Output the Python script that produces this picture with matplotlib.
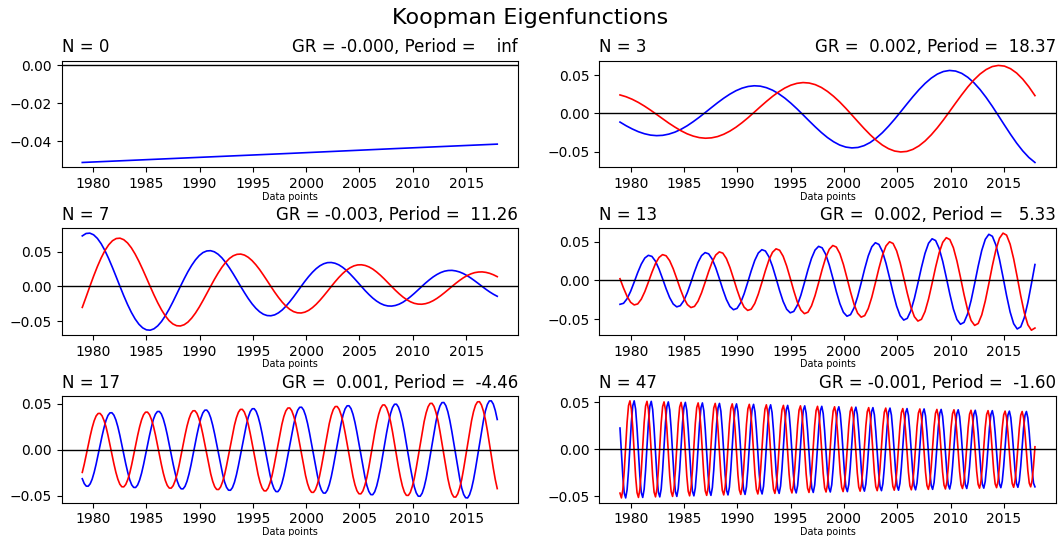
import numpy as np
import matplotlib
matplotlib.use("Agg")
import matplotlib.pyplot as plt

# eigenfunction index, growth rate (per month) and period (years)
modes = [0, 3, 7, 13, 17, 47]
growth_rates = [-0.0001, 0.002, -0.003, 0.002, 0.001, -0.001]
periods = [np.inf, 18.37, 11.26, 5.33, -4.46, -1.60]
t_start = 1979.0
t_end = 2017.92

# values, evenly spaced in time between t_start and t_end
real_0 = [-0.0513, -0.0489, -0.0465, -0.0440, -0.0416]
imag_0 = None

real_3 = [-0.0113, -0.0161, -0.0203, -0.0239, -0.0266, -0.0284, -0.0291, -0.0287, -0.0271, -0.0245,
          -0.0208, -0.0162, -0.0108, -0.0049, 0.0014, 0.0078, 0.0141, 0.0200, 0.0253, 0.0298,
          0.0332, 0.0354, 0.0363, 0.0358, 0.0338, 0.0305, 0.0259, 0.0202, 0.0135, 0.0061,
          -0.0018, -0.0098, -0.0176, -0.0250, -0.0316, -0.0371, -0.0414, -0.0441, -0.0452, -0.0446,
          -0.0422, -0.0381, -0.0323, -0.0252, -0.0168, -0.0076, 0.0022, 0.0122, 0.0220, 0.0312,
          0.0394, 0.0463, 0.0516, 0.0550, 0.0564, 0.0556, 0.0526, 0.0474, 0.0403, 0.0314,
          0.0210, 0.0095, -0.0028, -0.0152, -0.0274, -0.0389, -0.0491, -0.0577, -0.0643]
imag_3 = [0.0243, 0.0219, 0.0186, 0.0145, 0.0097, 0.0044, -0.0013, -0.0070, -0.0127, -0.0179,
          -0.0227, -0.0267, -0.0297, -0.0317, -0.0325, -0.0320, -0.0303, -0.0273, -0.0232, -0.0181,
          -0.0121, -0.0055, 0.0016, 0.0088, 0.0158, 0.0224, 0.0283, 0.0333, 0.0371, 0.0395,
          0.0405, 0.0399, 0.0378, 0.0341, 0.0289, 0.0225, 0.0151, 0.0068, -0.0020, -0.0109,
          -0.0197, -0.0279, -0.0353, -0.0415, -0.0462, -0.0493, -0.0505, -0.0498, -0.0471, -0.0425,
          -0.0361, -0.0281, -0.0188, -0.0085, 0.0025, 0.0136, 0.0245, 0.0348, 0.0440, 0.0517,
          0.0576, 0.0615, 0.0630, 0.0621, 0.0587, 0.0530, 0.0450, 0.0350, 0.0234]

real_7 = [0.0732, 0.0767, 0.0772, 0.0748, 0.0696, 0.0619, 0.0520, 0.0403, 0.0274, 0.0138,
          0.0, -0.0135, -0.0261, -0.0374, -0.0470, -0.0546, -0.0599, -0.0628, -0.0633, -0.0613,
          -0.0570, -0.0507, -0.0425, -0.0330, -0.0225, -0.0113, 0.0, 0.0110, 0.0214, 0.0306,
          0.0385, 0.0447, 0.0491, 0.0514, 0.0518, 0.0502, 0.0467, 0.0415, 0.0348, 0.0270,
          0.0184, 0.0093, 0.0, -0.0090, -0.0175, -0.0251, -0.0315, -0.0366, -0.0402, -0.0421,
          -0.0424, -0.0411, -0.0382, -0.0340, -0.0285, -0.0221, -0.0151, -0.0076, 0.0, 0.0074,
          0.0143, 0.0205, 0.0258, 0.0300, 0.0329, 0.0345, 0.0347, 0.0336, 0.0313, 0.0278,
          0.0234, 0.0181, 0.0123, 0.0062, 0.0, -0.0061, -0.0117, -0.0168, -0.0211, -0.0245,
          -0.0269, -0.0282, -0.0284, -0.0275, -0.0256, -0.0228, -0.0191, -0.0148, -0.0101, -0.0051,
          0.0, 0.0050, 0.0096, 0.0138, 0.0173, 0.0201, 0.0221, 0.0231, 0.0233, 0.0225,
          0.0210, 0.0187, 0.0157, 0.0122, 0.0083, 0.0042, 0.0, -0.0041, -0.0079, -0.0113,
          -0.0142]
imag_7 = [-0.0303, -0.0153, 0.0, 0.0149, 0.0288, 0.0413, 0.0520, 0.0603, 0.0662, 0.0694,
          0.0699, 0.0677, 0.0630, 0.0560, 0.0470, 0.0365, 0.0248, 0.0125, 0.0, -0.0122,
          -0.0236, -0.0338, -0.0425, -0.0494, -0.0542, -0.0568, -0.0572, -0.0554, -0.0516, -0.0458,
          -0.0385, -0.0299, -0.0203, -0.0102, 0.0, 0.0100, 0.0193, 0.0277, 0.0348, 0.0405,
          0.0444, 0.0465, 0.0469, 0.0454, 0.0422, 0.0375, 0.0315, 0.0245, 0.0166, 0.0084,
          0.0, -0.0082, -0.0158, -0.0227, -0.0285, -0.0331, -0.0364, -0.0381, -0.0384, -0.0372,
          -0.0346, -0.0307, -0.0258, -0.0200, -0.0136, -0.0069, 0.0, 0.0067, 0.0130, 0.0186,
          0.0234, 0.0271, 0.0298, 0.0312, 0.0314, 0.0304, 0.0283, 0.0252, 0.0211, 0.0164,
          0.0112, 0.0056, 0.0, -0.0055, -0.0106, -0.0152, -0.0191, -0.0222, -0.0244, -0.0255,
          -0.0257, -0.0249, -0.0232, -0.0206, -0.0173, -0.0134, -0.0091, -0.0046, 0.0, 0.0045,
          0.0087, 0.0125, 0.0157, 0.0182, 0.0200, 0.0209, 0.0211, 0.0204, 0.0190, 0.0169,
          0.0142]

real_13 = [-0.0309, -0.0296, -0.0237, -0.0141, -0.0022, 0.0102, 0.0211, 0.0290, 0.0325, 0.0311, 0.0249, 0.0148, 0.0023, -0.0107, -0.0222, -0.0305,
           -0.0342, -0.0327, -0.0262, -0.0156, -0.0025, 0.0112, 0.0234, 0.0321, 0.0360, 0.0344, 0.0276, 0.0164, 0.0026, -0.0118, -0.0246, -0.0338,
           -0.0379, -0.0362, -0.0290, -0.0173, -0.0027, 0.0124, 0.0259, 0.0355, 0.0398, 0.0381, 0.0305, 0.0182, 0.0029, -0.0131, -0.0272, -0.0373,
           -0.0419, -0.0401, -0.0321, -0.0191, -0.0030, 0.0138, 0.0286, 0.0393, 0.0441, 0.0422, 0.0338, 0.0201, 0.0032, -0.0145, -0.0301, -0.0413,
           -0.0463, -0.0443, -0.0355, -0.0211, -0.0033, 0.0152, 0.0317, 0.0435, 0.0488, 0.0466, 0.0374, 0.0222, 0.0035, -0.0160, -0.0333, -0.0457,
           -0.0513, -0.0491, -0.0393, -0.0234, -0.0037, 0.0168, 0.0350, 0.0481, 0.0539, 0.0516, 0.0413, 0.0246, 0.0039, -0.0177, -0.0369, -0.0506,
           -0.0567, -0.0543, -0.0435, -0.0259, -0.0041, 0.0186, 0.0388, 0.0532, 0.0597, 0.0571, 0.0457, 0.0272, 0.0043, -0.0196, -0.0408, -0.0560,
           -0.0628, -0.0600, -0.0481, -0.0286, -0.0045, 0.0206]
imag_13 = [0.0022, -0.0099, -0.0206, -0.0283, -0.0317, -0.0304, -0.0243, -0.0145, -0.0023, 0.0104, 0.0217, 0.0297, 0.0334, 0.0319, 0.0256, 0.0152,
           0.0024, -0.0110, -0.0228, -0.0313, -0.0351, -0.0336, -0.0269, -0.0160, -0.0025, 0.0115, 0.0240, 0.0329, 0.0369, 0.0353, 0.0283, 0.0168,
           0.0026, -0.0121, -0.0252, -0.0346, -0.0388, -0.0372, -0.0298, -0.0177, -0.0028, 0.0127, 0.0265, 0.0364, 0.0409, 0.0391, 0.0313, 0.0186,
           0.0029, -0.0134, -0.0279, -0.0383, -0.0430, -0.0411, -0.0329, -0.0196, -0.0031, 0.0141, 0.0294, 0.0403, 0.0452, 0.0432, 0.0346, 0.0206,
           0.0032, -0.0148, -0.0309, -0.0424, -0.0475, -0.0455, -0.0364, -0.0217, -0.0034, 0.0156, 0.0325, 0.0446, 0.0500, 0.0478, 0.0383, 0.0228,
           0.0036, -0.0164, -0.0342, -0.0469, -0.0526, -0.0503, -0.0403, -0.0240, -0.0038, 0.0173, 0.0359, 0.0493, 0.0553, 0.0529, 0.0424, 0.0252,
           0.0040, -0.0182, -0.0378, -0.0519, -0.0582, -0.0557, -0.0446, -0.0265, -0.0042, 0.0191, 0.0398, 0.0546, 0.0612, 0.0586, 0.0469, 0.0279,
           0.0044, -0.0201, -0.0418, -0.0574, -0.0644, -0.0616]

real_17 = [-0.0314, -0.0367, -0.0394, -0.0395, -0.0369, -0.0318, -0.0245, -0.0156, -0.0055, 0.0049, 0.0149, 0.0240,
           0.0319, 0.0373, 0.0401, 0.0402, 0.0376, 0.0324, 0.0250, 0.0158, 0.0056, -0.0049, -0.0152, -0.0244,
           -0.0325, -0.0380, -0.0408, -0.0409, -0.0382, -0.0329, -0.0254, -0.0161, -0.0057, 0.0050, 0.0154, 0.0248,
           0.0331, 0.0386, 0.0415, 0.0416, 0.0389, 0.0335, 0.0258, 0.0164, 0.0058, -0.0051, -0.0157, -0.0253,
           -0.0336, -0.0393, -0.0423, -0.0424, -0.0396, -0.0341, -0.0263, -0.0167, -0.0059, 0.0052, 0.0160, 0.0257,
           0.0342, 0.0400, 0.0430, 0.0431, 0.0403, 0.0347, 0.0267, 0.0170, 0.0061, -0.0053, -0.0163, -0.0261,
           -0.0348, -0.0407, -0.0438, -0.0439, -0.0410, -0.0353, -0.0272, -0.0173, -0.0062, 0.0054, 0.0166, 0.0266,
           0.0354, 0.0414, 0.0445, 0.0446, 0.0417, 0.0359, 0.0277, 0.0176, 0.0063, -0.0055, -0.0168, -0.0271,
           -0.0361, -0.0421, -0.0453, -0.0454, -0.0424, -0.0365, -0.0282, -0.0179, -0.0064, 0.0056, 0.0171, 0.0275,
           0.0367, 0.0429, 0.0461, 0.0462, 0.0432, 0.0372, 0.0287, 0.0182, 0.0065, -0.0057, -0.0174, -0.0280,
           -0.0373, -0.0436, -0.0469, -0.0470, -0.0439, -0.0378, -0.0292, -0.0185, -0.0066, 0.0058, 0.0177, 0.0285,
           0.0380, 0.0444, 0.0477, 0.0478, 0.0447, 0.0385, 0.0297, 0.0188, 0.0067, -0.0059, -0.0181, -0.0290,
           -0.0386, -0.0451, -0.0486, -0.0487, -0.0455, -0.0392, -0.0302, -0.0192, -0.0068, 0.0060, 0.0184, 0.0295,
           0.0393, 0.0459, 0.0494, 0.0495, 0.0463, 0.0398, 0.0307, 0.0195, 0.0069, -0.0061, -0.0187, -0.0300,
           -0.0400, -0.0467, -0.0503, -0.0504, -0.0471, -0.0405, -0.0313, -0.0198, -0.0071, 0.0062, 0.0190, 0.0306,
           0.0407, 0.0475, 0.0512, 0.0513, 0.0479, 0.0413, 0.0318, 0.0202, 0.0072, -0.0063, -0.0194, -0.0311,
           -0.0414, -0.0484, -0.0520, -0.0522, -0.0487, -0.0420, -0.0324, -0.0205, -0.0073, 0.0064, 0.0197, 0.0316,
           0.0421, 0.0492, 0.0530, 0.0531, 0.0496, 0.0427, 0.0329]
imag_17 = [-0.0245, -0.0156, -0.0055, 0.0049, 0.0149, 0.0240, 0.0314, 0.0367, 0.0394, 0.0395, 0.0369, 0.0318,
           0.0250, 0.0158, 0.0056, -0.0049, -0.0152, -0.0244, -0.0319, -0.0373, -0.0401, -0.0402, -0.0376, -0.0324,
           -0.0254, -0.0161, -0.0057, 0.0050, 0.0154, 0.0248, 0.0325, 0.0380, 0.0408, 0.0409, 0.0382, 0.0329,
           0.0258, 0.0164, 0.0058, -0.0051, -0.0157, -0.0253, -0.0331, -0.0386, -0.0415, -0.0416, -0.0389, -0.0335,
           -0.0263, -0.0167, -0.0059, 0.0052, 0.0160, 0.0257, 0.0336, 0.0393, 0.0423, 0.0424, 0.0396, 0.0341,
           0.0267, 0.0170, 0.0061, -0.0053, -0.0163, -0.0261, -0.0342, -0.0400, -0.0430, -0.0431, -0.0403, -0.0347,
           -0.0272, -0.0173, -0.0062, 0.0054, 0.0166, 0.0266, 0.0348, 0.0407, 0.0438, 0.0439, 0.0410, 0.0353,
           0.0277, 0.0176, 0.0063, -0.0055, -0.0168, -0.0271, -0.0354, -0.0414, -0.0445, -0.0446, -0.0417, -0.0359,
           -0.0282, -0.0179, -0.0064, 0.0056, 0.0171, 0.0275, 0.0361, 0.0421, 0.0453, 0.0454, 0.0424, 0.0365,
           0.0287, 0.0182, 0.0065, -0.0057, -0.0174, -0.0280, -0.0367, -0.0429, -0.0461, -0.0462, -0.0432, -0.0372,
           -0.0292, -0.0185, -0.0066, 0.0058, 0.0177, 0.0285, 0.0373, 0.0436, 0.0469, 0.0470, 0.0439, 0.0378,
           0.0297, 0.0188, 0.0067, -0.0059, -0.0181, -0.0290, -0.0380, -0.0444, -0.0477, -0.0478, -0.0447, -0.0385,
           -0.0302, -0.0192, -0.0068, 0.0060, 0.0184, 0.0295, 0.0386, 0.0451, 0.0486, 0.0487, 0.0455, 0.0392,
           0.0307, 0.0195, 0.0069, -0.0061, -0.0187, -0.0300, -0.0393, -0.0459, -0.0494, -0.0495, -0.0463, -0.0398,
           -0.0313, -0.0198, -0.0071, 0.0062, 0.0190, 0.0306, 0.0400, 0.0467, 0.0503, 0.0504, 0.0471, 0.0405,
           0.0318, 0.0202, 0.0072, -0.0063, -0.0194, -0.0311, -0.0407, -0.0475, -0.0512, -0.0513, -0.0479, -0.0413,
           -0.0324, -0.0205, -0.0073, 0.0064, 0.0197, 0.0316, 0.0414, 0.0484, 0.0520, 0.0522, 0.0487, 0.0420,
           0.0329, 0.0209, 0.0074, -0.0065, -0.0200, -0.0322, -0.0421]

real_47 = [0.0227, -0.0036, -0.0289, -0.0465, -0.0516, -0.0429, -0.0227, 0.0036, 0.0289, 0.0465, 0.0516, 0.0429,
           0.0224, -0.0036, -0.0286, -0.0460, -0.0511, -0.0424, -0.0224, 0.0036, 0.0286, 0.0460, 0.0511, 0.0424,
           0.0222, -0.0035, -0.0283, -0.0455, -0.0505, -0.0420, -0.0222, 0.0035, 0.0283, 0.0455, 0.0505, 0.0420,
           0.0220, -0.0035, -0.0280, -0.0450, -0.0500, -0.0415, -0.0220, 0.0035, 0.0280, 0.0450, 0.0500, 0.0415,
           0.0217, -0.0035, -0.0277, -0.0445, -0.0494, -0.0411, -0.0217, 0.0035, 0.0277, 0.0445, 0.0494, 0.0411,
           0.0215, -0.0034, -0.0274, -0.0441, -0.0489, -0.0406, -0.0215, 0.0034, 0.0274, 0.0441, 0.0489, 0.0406,
           0.0213, -0.0034, -0.0271, -0.0436, -0.0484, -0.0402, -0.0213, 0.0034, 0.0271, 0.0436, 0.0484, 0.0402,
           0.0210, -0.0034, -0.0268, -0.0431, -0.0479, -0.0398, -0.0210, 0.0034, 0.0268, 0.0431, 0.0479, 0.0398,
           0.0208, -0.0033, -0.0265, -0.0427, -0.0474, -0.0393, -0.0208, 0.0033, 0.0265, 0.0427, 0.0474, 0.0393,
           0.0206, -0.0033, -0.0263, -0.0422, -0.0468, -0.0389, -0.0206, 0.0033, 0.0263, 0.0422, 0.0468, 0.0389,
           0.0204, -0.0032, -0.0260, -0.0418, -0.0463, -0.0385, -0.0204, 0.0032, 0.0260, 0.0418, 0.0463, 0.0385,
           0.0201, -0.0032, -0.0257, -0.0413, -0.0458, -0.0381, -0.0201, 0.0032, 0.0257, 0.0413, 0.0458, 0.0381,
           0.0199, -0.0032, -0.0254, -0.0409, -0.0453, -0.0377, -0.0199, 0.0032, 0.0254, 0.0409, 0.0453, 0.0377,
           0.0197, -0.0031, -0.0252, -0.0404, -0.0449, -0.0373, -0.0197, 0.0031, 0.0252, 0.0404, 0.0449, 0.0373,
           0.0195, -0.0031, -0.0249, -0.0400, -0.0444, -0.0369, -0.0195, 0.0031, 0.0249, 0.0400, 0.0444, 0.0369,
           0.0193, -0.0031, -0.0246, -0.0396, -0.0439, -0.0365, -0.0193, 0.0031, 0.0246, 0.0396, 0.0439, 0.0365,
           0.0191, -0.0030, -0.0243, -0.0391, -0.0434, -0.0361, -0.0191, 0.0030, 0.0243, 0.0391, 0.0434, 0.0361,
           0.0189, -0.0030, -0.0241, -0.0387, -0.0430, -0.0357, -0.0189, 0.0030, 0.0241, 0.0387, 0.0430, 0.0357,
           0.0187, -0.0030, -0.0238, -0.0383, -0.0425, -0.0353, -0.0187, 0.0030, 0.0238, 0.0383, 0.0425, 0.0353,
           0.0185, -0.0029, -0.0236, -0.0379, -0.0421, -0.0349, -0.0185, 0.0029, 0.0236, 0.0379, 0.0421, 0.0349,
           0.0183, -0.0029, -0.0233, -0.0375, -0.0416, -0.0346, -0.0183, 0.0029, 0.0233, 0.0375, 0.0416, 0.0346,
           0.0181, -0.0029, -0.0231, -0.0371, -0.0412, -0.0342, -0.0181, 0.0029, 0.0231, 0.0371, 0.0412, 0.0342,
           0.0179, -0.0028, -0.0228, -0.0367, -0.0407, -0.0338, -0.0179, 0.0028, 0.0228, 0.0367, 0.0407, 0.0338,
           0.0177, -0.0028, -0.0226, -0.0363, -0.0403, -0.0335, -0.0177, 0.0028, 0.0226, 0.0363, 0.0403, 0.0335,
           0.0175, -0.0028, -0.0223, -0.0359, -0.0398]
imag_47 = [-0.0465, -0.0516, -0.0429, -0.0227, 0.0036, 0.0289, 0.0465, 0.0516, 0.0429, 0.0227, -0.0036, -0.0289,
           -0.0460, -0.0511, -0.0424, -0.0224, 0.0036, 0.0286, 0.0460, 0.0511, 0.0424, 0.0224, -0.0036, -0.0286,
           -0.0455, -0.0505, -0.0420, -0.0222, 0.0035, 0.0283, 0.0455, 0.0505, 0.0420, 0.0222, -0.0035, -0.0283,
           -0.0450, -0.0500, -0.0415, -0.0220, 0.0035, 0.0280, 0.0450, 0.0500, 0.0415, 0.0220, -0.0035, -0.0280,
           -0.0445, -0.0494, -0.0411, -0.0217, 0.0035, 0.0277, 0.0445, 0.0494, 0.0411, 0.0217, -0.0035, -0.0277,
           -0.0441, -0.0489, -0.0406, -0.0215, 0.0034, 0.0274, 0.0441, 0.0489, 0.0406, 0.0215, -0.0034, -0.0274,
           -0.0436, -0.0484, -0.0402, -0.0213, 0.0034, 0.0271, 0.0436, 0.0484, 0.0402, 0.0213, -0.0034, -0.0271,
           -0.0431, -0.0479, -0.0398, -0.0210, 0.0034, 0.0268, 0.0431, 0.0479, 0.0398, 0.0210, -0.0034, -0.0268,
           -0.0427, -0.0474, -0.0393, -0.0208, 0.0033, 0.0265, 0.0427, 0.0474, 0.0393, 0.0208, -0.0033, -0.0265,
           -0.0422, -0.0468, -0.0389, -0.0206, 0.0033, 0.0263, 0.0422, 0.0468, 0.0389, 0.0206, -0.0033, -0.0263,
           -0.0418, -0.0463, -0.0385, -0.0204, 0.0032, 0.0260, 0.0418, 0.0463, 0.0385, 0.0204, -0.0032, -0.0260,
           -0.0413, -0.0458, -0.0381, -0.0201, 0.0032, 0.0257, 0.0413, 0.0458, 0.0381, 0.0201, -0.0032, -0.0257,
           -0.0409, -0.0453, -0.0377, -0.0199, 0.0032, 0.0254, 0.0409, 0.0453, 0.0377, 0.0199, -0.0032, -0.0254,
           -0.0404, -0.0449, -0.0373, -0.0197, 0.0031, 0.0252, 0.0404, 0.0449, 0.0373, 0.0197, -0.0031, -0.0252,
           -0.0400, -0.0444, -0.0369, -0.0195, 0.0031, 0.0249, 0.0400, 0.0444, 0.0369, 0.0195, -0.0031, -0.0249,
           -0.0396, -0.0439, -0.0365, -0.0193, 0.0031, 0.0246, 0.0396, 0.0439, 0.0365, 0.0193, -0.0031, -0.0246,
           -0.0391, -0.0434, -0.0361, -0.0191, 0.0030, 0.0243, 0.0391, 0.0434, 0.0361, 0.0191, -0.0030, -0.0243,
           -0.0387, -0.0430, -0.0357, -0.0189, 0.0030, 0.0241, 0.0387, 0.0430, 0.0357, 0.0189, -0.0030, -0.0241,
           -0.0383, -0.0425, -0.0353, -0.0187, 0.0030, 0.0238, 0.0383, 0.0425, 0.0353, 0.0187, -0.0030, -0.0238,
           -0.0379, -0.0421, -0.0349, -0.0185, 0.0029, 0.0236, 0.0379, 0.0421, 0.0349, 0.0185, -0.0029, -0.0236,
           -0.0375, -0.0416, -0.0346, -0.0183, 0.0029, 0.0233, 0.0375, 0.0416, 0.0346, 0.0183, -0.0029, -0.0233,
           -0.0371, -0.0412, -0.0342, -0.0181, 0.0029, 0.0231, 0.0371, 0.0412, 0.0342, 0.0181, -0.0029, -0.0231,
           -0.0367, -0.0407, -0.0338, -0.0179, 0.0028, 0.0228, 0.0367, 0.0407, 0.0338, 0.0179, -0.0028, -0.0228,
           -0.0363, -0.0403, -0.0335, -0.0177, 0.0028, 0.0226, 0.0363, 0.0403, 0.0335, 0.0177, -0.0028, -0.0226,
           -0.0359, -0.0398, -0.0331, -0.0175, 0.0028]

real_parts = [real_0, real_3, real_7, real_13, real_17, real_47]
imag_parts = [imag_0, imag_3, imag_7, imag_13, imag_17, imag_47]

fig, axes = plt.subplots(3, 2, figsize=(10.61, 5.36), dpi=100)
fig.subplots_adjust(left=0.058, right=0.995, top=0.887, bottom=0.062,
                    wspace=0.178, hspace=0.571)
fig.suptitle("Koopman Eigenfunctions", fontsize=16, y=0.986)

for i, ax in enumerate(axes.flat):
    re = real_parts[i]
    t = np.linspace(t_start, t_end, len(re))
    ax.plot(t, re, color="b", lw=1.2)
    if imag_parts[i] is not None:
        ax.plot(t, imag_parts[i], color="r", lw=1.2)
    ax.axhline(0, color="k", lw=1)
    ax.set_title("N = %d" % modes[i], loc="left")
    ax.set_title("GR = %6.3f, Period = %6.2f" % (growth_rates[i], periods[i]), loc="right")
    ax.set_xlabel("Data points", fontsize="x-small", labelpad=0.5)

fig.savefig("out.png", dpi=100)
